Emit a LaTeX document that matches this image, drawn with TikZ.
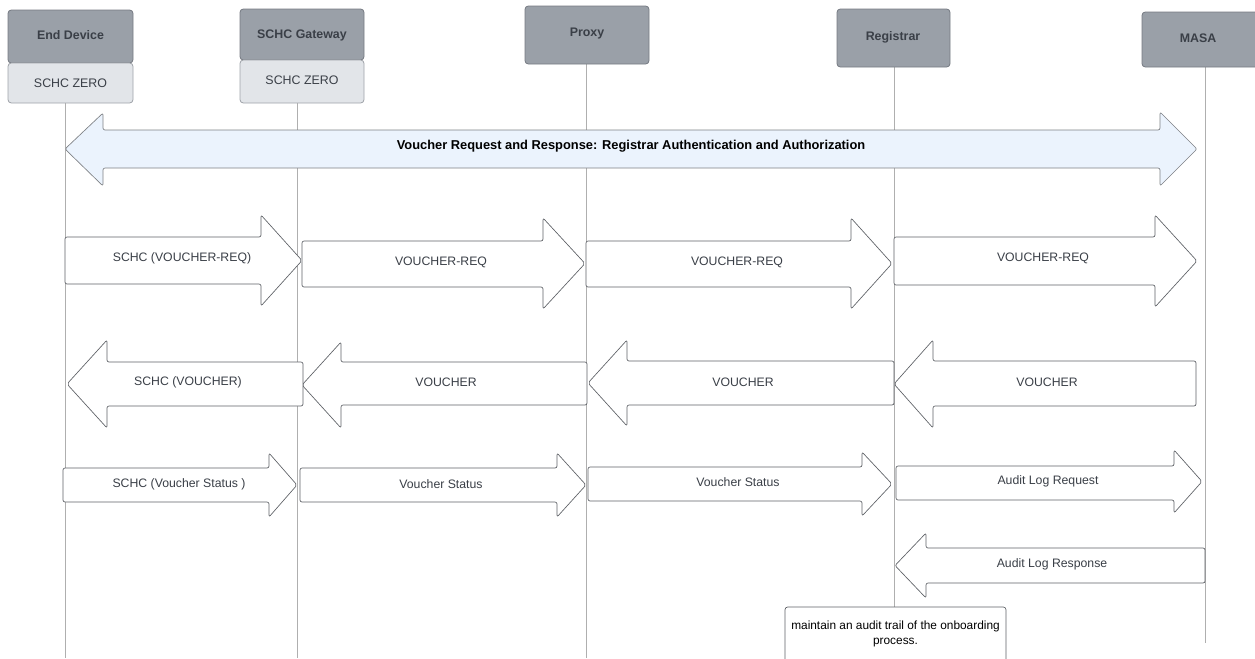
\documentclass[tikz,border=0pt]{standalone}
\usepackage{fontspec}
\setmainfont{Liberation Sans}
\begin{document}
\definecolor{headfill}{HTML}{9AA0A8}
\definecolor{headdraw}{HTML}{767B83}
\definecolor{subfill}{HTML}{E2E5E9}
\definecolor{subdraw}{HTML}{9FA3A9}
\definecolor{inktext}{HTML}{3A3F47}
\definecolor{lifeln}{HTML}{AFAFAF}
\definecolor{blkdraw}{HTML}{5E6166}
\definecolor{bandfill}{HTML}{EBF3FD}
% right-pointing block arrow: tail x, head base x, tip x, shaft top, shaft bottom, head top, head bottom
\newcommand\rblock[7]{\draw[blk] (#1,#4) -- (#2,#4) -- (#2,#6) -- (#3,{(#6+#7)/2}) -- (#2,#7) -- (#2,#5) -- (#1,#5) -- cycle;}
% left-pointing block arrow: tip x, head base x, tail x, shaft top, shaft bottom, head top, head bottom
\newcommand\lblock[7]{\draw[blk] (#3,#4) -- (#2,#4) -- (#2,#6) -- (#1,{(#6+#7)/2}) -- (#2,#7) -- (#2,#5) -- (#3,#5) -- cycle;}
\begin{tikzpicture}[x=0.75pt,y=-0.75pt,
  head/.style={draw=headdraw,fill=headfill,rounded corners=2.5pt,line width=0.6pt},
  sub/.style={draw=subdraw,fill=subfill,rounded corners=2.5pt,line width=0.6pt},
  headtxt/.style={font=\fontsize{9.3}{11}\selectfont\bfseries,text=inktext},
  subtxt/.style={font=\fontsize{9.3}{11}\selectfont,text=inktext},
  life/.style={draw=lifeln,line width=0.6pt},
  blk/.style={draw=blkdraw,fill=white,line width=0.5pt,rounded corners=1.5pt},
  msg/.style={font=\fontsize{9.2}{11}\selectfont,text=inktext},
  band/.style={draw=blkdraw!80,fill=bandfill,line width=0.5pt,rounded corners=1.5pt}]
\useasboundingbox (0,0) rectangle (1255,658);
\clip (0,0) rectangle (1255,658);

% lifelines
\draw[life] (65,103) -- (65,658);
\draw[life] (297,103) -- (297,658);
\draw[life] (586,64) -- (586,658);
\draw[life] (894,67) -- (894,607);
\draw[life] (1205,67) -- (1205,643);

% participant headers
\draw[head] (8,10) rectangle (133,63);
\draw[sub] (8,63) rectangle (133,103);
\node[headtxt] (ed) at (70.5,35) {End Device};
\node[subtxt] (edz) at (70.5,83) {SCHC ZERO};

\draw[head] (240,9) rectangle (364,60);
\draw[sub] (240,60) rectangle (364,103);
\node[headtxt] (gw) at (302,35) {SCHC Gateway};
\node[subtxt] (gwz) at (302,80) {SCHC ZERO};

\draw[head] (525,6) rectangle (649,64);
\node[headtxt] (px) at (587,34) {Proxy};

\draw[head] (837,9) rectangle (950,67);
\node[headtxt] (rg) at (893,37) {Registrar};

\draw[head] (1142,12) rectangle (1262,67);
\node[headtxt] (ms) at (1198,38) {MASA};

% phase band across all participants
\draw[band] (65,149) -- (103,113) -- (103,130) -- (1160,130) -- (1160,112) -- (1197,149)
  -- (1160,186) -- (1160,168) -- (103,168) -- (103,186) -- cycle;
\node[font=\fontsize{9.65}{11}\selectfont\bfseries] (phase) at (631,146)
  {Voucher Request and Response: Registrar Authentication and Authorization};

% voucher requests
\rblock{65}{261}{302}{237}{284}{215}{306}
\node[msg] (m1) at (182,258) {SCHC (VOUCHER-REQ)};
\rblock{302}{543}{585}{241}{287}{218}{309}
\node[msg] (m2) at (441,262) {VOUCHER-REQ};
\rblock{586}{851}{892}{241}{287}{218}{309}
\node[msg] (m3) at (737,262) {VOUCHER-REQ};
\rblock{894}{1155}{1197}{237}{285}{215}{307}
\node[msg] (m4) at (1043,258) {VOUCHER-REQ};

% vouchers back
\lblock{67}{107}{303}{362}{406}{340}{428}
\node[msg] (v1) at (188,382) {SCHC (VOUCHER)};
\lblock{302}{341}{587}{362}{405}{342}{428}
\node[msg] (v2) at (446,382) {VOUCHER};
\lblock{588}{627}{894}{361}{405}{340}{426}
\node[msg] (v3) at (743,382) {VOUCHER};
\lblock{894}{933}{1196}{361}{406}{340}{428}
\node[msg] (v4) at (1047,382) {VOUCHER};

% voucher status
\rblock{63}{269}{297}{468}{502}{453}{517}
\node[msg] (s1) at (179,484) {SCHC (Voucher Status )};
\rblock{300}{557}{586}{468}{502}{453}{517}
\node[msg] (s2) at (441,484) {Voucher Status};
\rblock{588}{862}{892}{467}{501}{452}{516}
\node[msg] (s3) at (738,482) {Voucher Status};
\rblock{896}{1174}{1202}{466}{500}{450}{513}
\node[msg] (s4) at (1048,481) {Audit Log Request};

% audit log response
\lblock{895}{926}{1205}{548}{583}{533}{598}
\node[msg] (a1) at (1052,564) {Audit Log Response};

% note on the registrar
\draw[draw=blkdraw,fill=white,line width=0.5pt,rounded corners=2pt] (785,607) rectangle (1006,672);
\node[font=\fontsize{8.9}{11.3}\selectfont,align=center,anchor=north,inner sep=0pt] (note) at (895.5,621)
  {maintain an audit trail of the onboarding\\process.};
\end{tikzpicture}
\end{document}
